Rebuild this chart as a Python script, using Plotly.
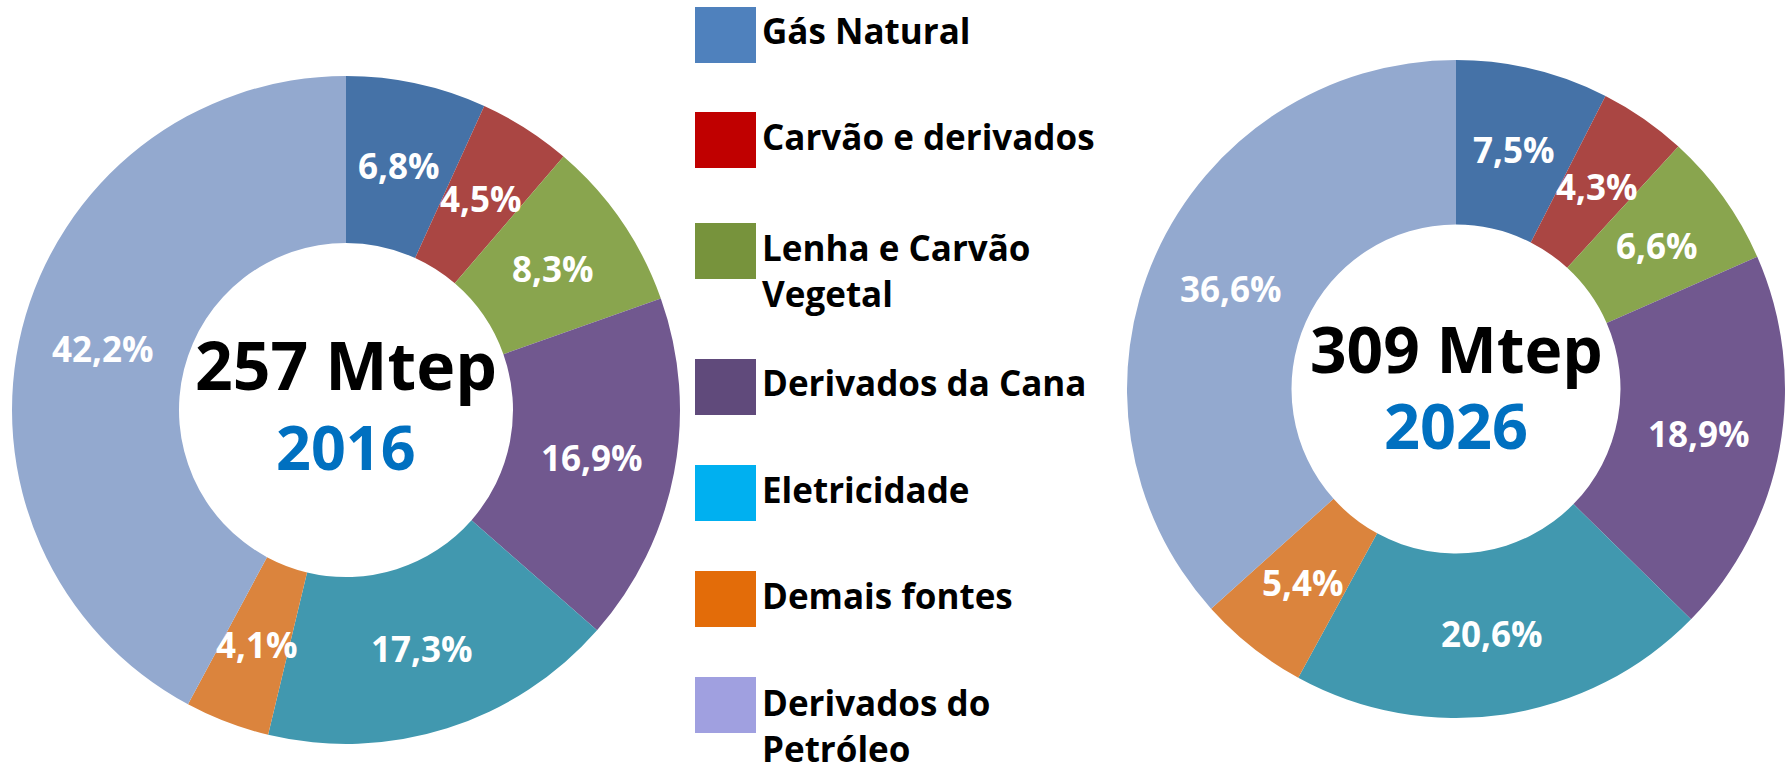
import math
import plotly.graph_objects as go

W, H = 1790, 762

categories = ["Gás Natural", "Carvão e derivados", "Lenha e Carvão Vegetal",
              "Derivados da Cana", "Eletricidade", "Demais fontes",
              "Derivados do Petróleo"]
legend_labels = ["Gás Natural", "Carvão e derivados", "Lenha e Carvão<br>Vegetal",
                 "Derivados da Cana", "Eletricidade", "Demais fontes",
                 "Derivados do<br>Petróleo"]
values_2016 = [6.8, 4.5, 8.3, 16.9, 17.3, 4.1, 42.2]
values_2026 = [7.5, 4.3, 6.6, 18.9, 20.6, 5.4, 36.6]
totals = ["257 Mtep", "309 Mtep"]
years = ["2016", "2026"]

slice_colors = ["#4572A7", "#AA4643", "#89A54E", "#71588F", "#4198AF", "#DB843D", "#93A9CF"]
legend_colors = ["#4F81BD", "#C00000", "#77933C", "#604A7B", "#00B0F0", "#E36C09", "#A0A0E0"]

FONT = "Open Sans"
HOLE = 0.5


def fmt(v):
    return f"{v:.1f}%".replace(".", ",")


def px_dom_x(a, b):
    return [a / W, b / W]


def px_dom_y(top, bottom):
    return [1 - bottom / H, 1 - top / H]


# donut geometry (pixels): center x, center y, radius
donuts = [(346, 410, 334), (1456, 389, 329)]

fig = go.Figure()
annotations = []
shapes = []

for vals, (cx, cy, r) in zip([values_2016, values_2026], donuts):
    fig.add_trace(go.Pie(
        labels=categories,
        values=vals,
        textinfo="none",
        hole=HOLE,
        sort=False,
        direction="clockwise",
        rotation=0,
        marker=dict(colors=slice_colors, line=dict(width=0)),
        domain=dict(x=px_dom_x(cx - r, cx + r), y=px_dom_y(cy - r, cy + r)),
        hoverinfo="skip",
        showlegend=False,
    ))
    # percentage labels at the middle of the ring, at each slice's mid angle
    total = sum(vals)
    cum = 0.0
    rm = r * (1 + HOLE) / 2
    for v in vals:
        mid = (cum + v / 2) / total * 2 * math.pi
        cum += v
        lx = cx + rm * math.sin(mid)
        ly = cy - rm * math.cos(mid)
        annotations.append(dict(x=lx / W, y=1 - ly / H, xref="paper", yref="paper",
                                text=fmt(v), showarrow=False,
                                xanchor="center", yanchor="middle",
                                font=dict(family=FONT, size=35, color="white", weight="bold")))

center_specs = [(-46, 36, 66, 61), (-41, 35, 64, 63)]
for tot, yr, (cx, cy, r), (dt, dy, st, sy) in zip(totals, years, donuts, center_specs):
    annotations.append(dict(x=cx / W, y=1 - (cy + dt) / H, xref="paper", yref="paper",
                            text=tot, showarrow=False, xanchor="center", yanchor="middle",
                            font=dict(family=FONT, size=st, color="black", weight="bold")))
    annotations.append(dict(x=cx / W, y=1 - (cy + dy) / H, xref="paper", yref="paper",
                            text=yr, showarrow=False, xanchor="center", yanchor="middle",
                            font=dict(family=FONT, size=sy, color="#0070C0", weight="bold")))

# custom legend
sq_tops = [7, 112, 223, 359, 465, 571, 677]
sq_h = 56
sq_x0, sq_x1 = 695, 756
for lab, col, top in zip(legend_labels, legend_colors, sq_tops):
    shapes.append(dict(type="rect", xref="paper", yref="paper",
                       x0=sq_x0 / W, x1=sq_x1 / W,
                       y0=1 - (top + sq_h) / H, y1=1 - top / H,
                       fillcolor=col, line=dict(width=0)))
    if "<br>" in lab:
        ymid = top + 48
    else:
        ymid = top + 24
    annotations.append(dict(x=760 / W, y=1 - ymid / H, xref="paper", yref="paper",
                            text=lab, showarrow=False, xanchor="left", yanchor="middle",
                            align="left",
                            font=dict(family=FONT, size=35, color="black", weight="bold")))

fig.update_layout(
    width=W, height=H,
    margin=dict(l=0, r=0, t=0, b=0),
    paper_bgcolor="white", plot_bgcolor="white",
    annotations=annotations, shapes=shapes,
    showlegend=False,
)

fig.write_html("out.html", config={"displayModeBar": False},
               post_script="document.body.style.margin='0';document.body.style.overflow='hidden';")
